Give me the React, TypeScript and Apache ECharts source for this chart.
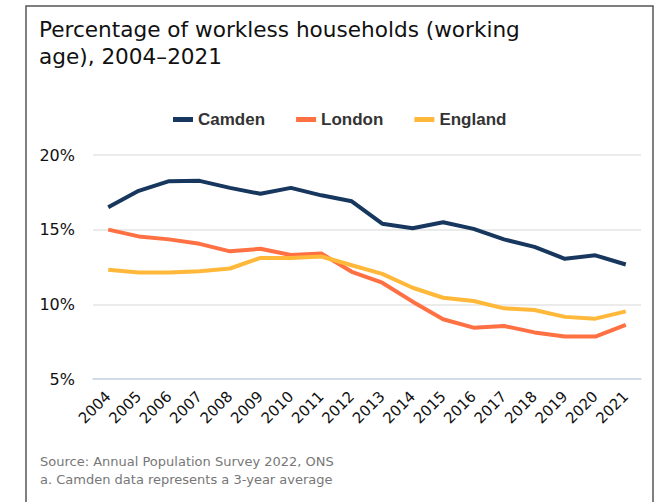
import React, { useEffect, useRef } from "react";
import * as echarts from "echarts";

const years = ["2004","2005","2006","2007","2008","2009","2010","2011","2012","2013","2014","2015","2016","2017","2018","2019","2020","2021"];
const camden = [16.5,17.6,18.25,18.27,17.8,17.4,17.8,17.3,16.9,15.4,15.1,15.5,15.05,14.35,13.85,13.05,13.28,12.67];
const london = [15.0,14.55,14.35,14.05,13.55,13.72,13.3,13.4,12.18,11.45,10.18,9.0,8.44,8.55,8.12,7.84,7.84,8.62];
const england = [12.31,12.13,12.13,12.22,12.4,13.11,13.11,13.2,12.62,12.04,11.11,10.44,10.22,9.73,9.62,9.16,9.04,9.53];
const yTicks = [5, 10, 15, 20];

const FONT = "DejaVu Sans";

export default function App() {
  const ref = useRef<HTMLDivElement>(null);
  useEffect(() => {
    document.body.style.margin = "0";
    const chart = echarts.init(ref.current!, null, { renderer: "svg" });
    chart.setOption({
      animation: false,
      backgroundColor: "#ffffff",
      title: {
        text: "Percentage of workless households (working\nage), 2004–2021",
        left: 34,
        top: 11,
        textStyle: { fontFamily: FONT, fontSize: 21.6, fontWeight: "normal", color: "#111", lineHeight: 27 },
      },
      legend: {
        top: 106,
        left: 168,
        icon: "rect",
        itemWidth: 20,
        itemHeight: 5,
        itemGap: 31,
        textStyle: { fontFamily: "Liberation Sans", fontSize: 17, fontWeight: "bold", color: "#333" },
        data: ["Camden", "London", "England"],
      },
      graphic: [
        {
          type: "rect",
          shape: { x: 26, y: 6, width: 627, height: 520 },
          style: { fill: "none", stroke: "#555", lineWidth: 1.5 },
          silent: true,
        },
        {
          type: "text",
          left: 40,
          top: 452,
          style: {
            text: "Source: Annual Population Survey 2022, ONS\na. Camden data represents a 3-year average",
            fontFamily: FONT,
            fontSize: 13,
            lineHeight: 18,
            fill: "#777",
          },
        },
      ],
      grid: { left: 93, right: 19, top: 155, bottom: 123 },
      xAxis: {
        type: "category",
        data: years,
        boundaryGap: true,
        axisLine: { show: true, lineStyle: { color: "#c9d7ec", width: 1.5 } },
        axisTick: { show: false },
        axisLabel: { rotate: 45, fontFamily: FONT, fontSize: 15, color: "#111", margin: 15, interval: 0 },
      },
      yAxis: {
        type: "value",
        min: yTicks[0],
        max: yTicks[yTicks.length - 1],
        interval: 5,
        axisLine: { show: false },
        axisTick: { show: false },
        splitLine: { lineStyle: { color: "#e4e4e4", width: 1.5 } },
        axisLabel: { formatter: "{value}%", fontFamily: FONT, fontSize: 16, color: "#111", margin: 18 },
      },
      series: [
        { name: "Camden", type: "line", data: camden, showSymbol: false, symbol: "none", lineStyle: { width: 4, color: "#17375e" }, itemStyle: { color: "#17375e" } },
        { name: "London", type: "line", data: london, showSymbol: false, symbol: "none", lineStyle: { width: 4, color: "#ff7043" }, itemStyle: { color: "#ff7043" } },
        { name: "England", type: "line", data: england, showSymbol: false, symbol: "none", lineStyle: { width: 4, color: "#ffb83a" }, itemStyle: { color: "#ffb83a" } },
      ],
    });
    return () => chart.dispose();
  }, []);
  return <div ref={ref} style={{ width: 660, height: 502 }} />;
}
